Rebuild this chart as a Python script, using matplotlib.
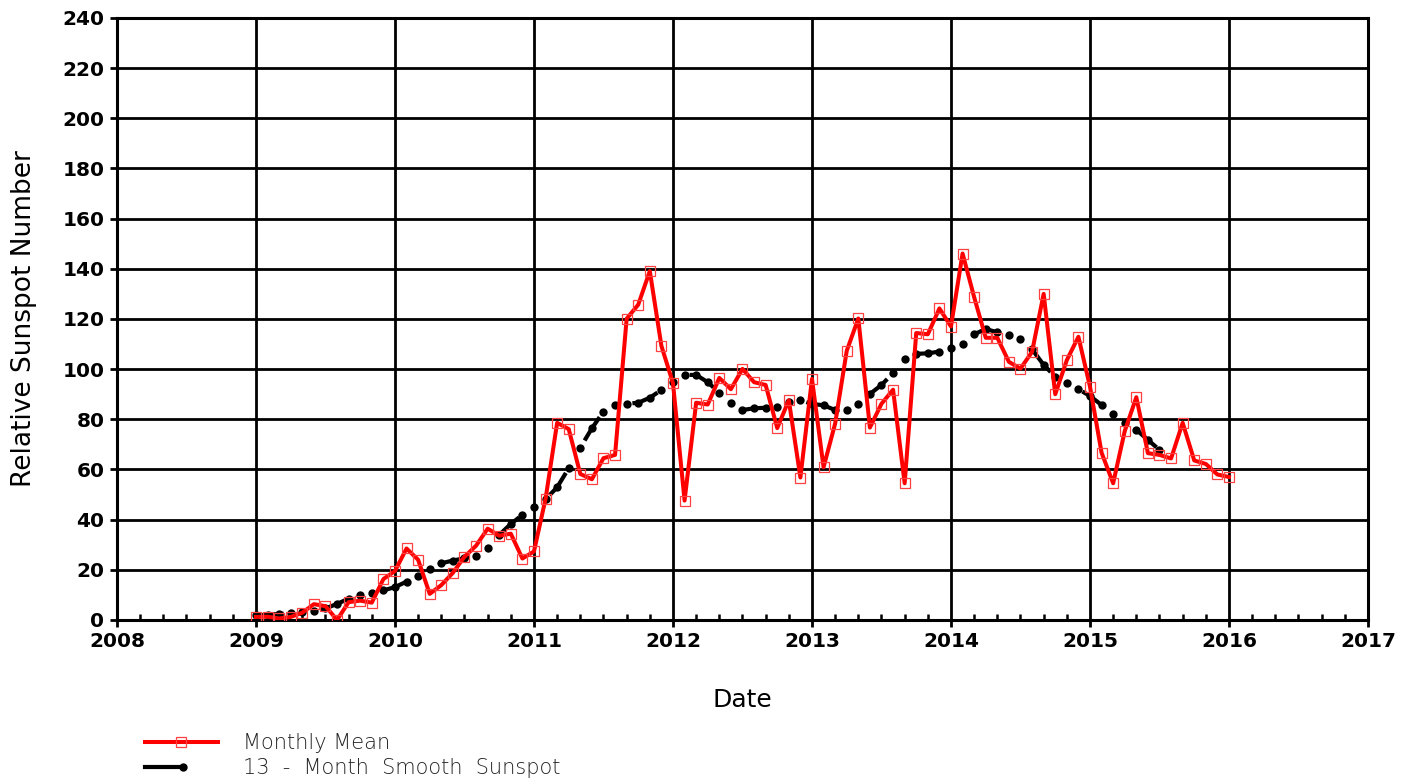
import numpy as np
import matplotlib
matplotlib.use("Agg")
import matplotlib.pyplot as plt
from matplotlib.lines import Line2D
from matplotlib.ticker import MultipleLocator

plt.rcParams['font.family'] = ['DejaVu Sans']
plt.rcParams['lines.scale_dashes'] = False

# Monthly mean sunspot number, Jan 2009 .. Jan 2016
monthly_mean = [
    1.2, 1.3, 0.6, 1.2, 2.9, 6.3, 5.5, 0.0, 7.1, 7.7, 6.9, 16.3,
    19.5, 28.5, 24.0, 10.4, 13.9, 18.8, 25.2, 29.6, 36.4, 33.6, 34.4, 24.5,
    27.3, 48.3, 78.6, 76.1, 58.2, 56.1, 64.5, 65.8, 120.1, 125.7, 139.1, 109.3,
    94.4, 47.6, 86.6, 85.9, 96.5, 92.0, 100.1, 94.8, 93.7, 76.5, 87.6, 56.8,
    96.1, 60.9, 78.3, 107.3, 120.2, 76.7, 86.2, 91.8, 54.5, 114.4, 113.9, 124.2,
    117.0, 146.1, 128.7, 112.5, 112.5, 102.9, 100.2, 106.9, 130.0, 90.0, 103.6, 112.9,
    93.0, 66.7, 54.5, 75.3, 88.8, 66.5, 65.8, 64.4, 78.6, 63.6, 62.2, 58.0,
    57.0,
]
# 13-month smoothed sunspot number, Jan 2009 .. Jul 2015
smoothed = [
    1.8, 2.1, 2.4, 2.7, 3.0, 3.5, 4.6, 6.4, 8.5, 10.0, 10.9, 11.8,
    13.1, 15.3, 17.6, 20.2, 22.6, 23.7, 24.6, 25.6, 28.6, 33.9, 38.3, 41.9,
    44.9, 48.1, 52.9, 60.5, 68.7, 76.4, 83.1, 85.7, 86.2, 86.6, 88.6, 91.7,
    95.0, 97.7, 97.7, 94.8, 90.6, 86.4, 83.7, 84.4, 84.6, 84.8, 87.0, 87.7,
    86.1, 85.6, 83.7, 83.7, 86.1, 90.1, 93.7, 98.4, 104.1, 106.1, 106.3, 107.0,
    108.6, 110.0, 113.9, 116.0, 114.7, 113.6, 111.9, 107.9, 101.7, 97.0, 94.4, 92.0,
    89.3, 85.7, 82.0, 78.7, 75.8, 71.8, 67.8,
]
start_year = 2009
x_ticks = list(range(2008, 2018))
y_ticks = list(range(0, 241, 20))

t_mean = start_year + np.arange(len(monthly_mean)) / 12.0
t_smooth = start_year + np.arange(len(smoothed)) / 12.0

fig = plt.figure(figsize=(14.16, 7.82), dpi=100)
ax = fig.add_axes([0.0826, 0.2072, 0.9661 - 0.0826, 0.977 - 0.2072])

ax.plot(t_smooth, smoothed, color='black', lw=3.0, linestyle=(0, (20, 27)),
        marker='o', markersize=6, markeredgewidth=0, zorder=3)
ax.plot(t_mean, monthly_mean, color='red', lw=2.9, marker='s', markersize=7,
        markerfacecolor='none', markeredgecolor='#ff4040', markeredgewidth=0.9, zorder=4)

ax.set_xlim(2008, 2017)
ax.set_ylim(0, 240)
ax.set_xticks(x_ticks)
ax.set_yticks(y_ticks)
ax.xaxis.set_minor_locator(MultipleLocator(2 / 12))
ax.grid(True, which='major', color='black', lw=2.0)
ax.set_axisbelow(True)
for s in ax.spines.values():
    s.set_linewidth(2.2)
    s.set_color('black')
ax.tick_params(axis='both', which='major', length=5, width=2, direction='out',
               labelsize=14.5, pad=4)
ax.tick_params(axis='x', which='minor', length=4, width=1.8, direction='in')
ax.tick_params(axis='y', which='minor', length=0)
for lab in ax.get_xticklabels() + ax.get_yticklabels():
    lab.set_fontweight('semibold')

ax.set_xlabel('Date', fontsize=18, labelpad=26)
ax.set_ylabel('Relative Sunspot Number', fontsize=19, labelpad=18)

# legend below the plot
fig.add_artist(Line2D([145 / 1416, 218 / 1416], [1 - 742 / 782] * 2, color='red', lw=2.9,
                      transform=fig.transFigure))
fig.add_artist(Line2D([181 / 1416], [1 - 742 / 782], color='red', marker='s', markersize=7,
                      markerfacecolor='none', markeredgecolor='#ff4040', markeredgewidth=0.9,
                      transform=fig.transFigure))
fig.add_artist(Line2D([145 / 1416, 183 / 1416], [1 - 767 / 782] * 2, color='black', lw=3.0,
                      transform=fig.transFigure))
fig.add_artist(Line2D([183 / 1416], [1 - 767 / 782], color='black', marker='o', markersize=6,
                      markeredgewidth=0, transform=fig.transFigure))
fig.text(243 / 1416, 1 - 743 / 782, 'Monthly Mean', fontsize=15, va='center', ha='left',
         fontweight='light', color='#222222')
fig.text(243 / 1416, 1 - 768 / 782, '13  -  Month  Smooth  Sunspot', fontsize=15,
         va='center', ha='left', fontweight='light', color='#222222')

fig.savefig('out.png', dpi=100)
